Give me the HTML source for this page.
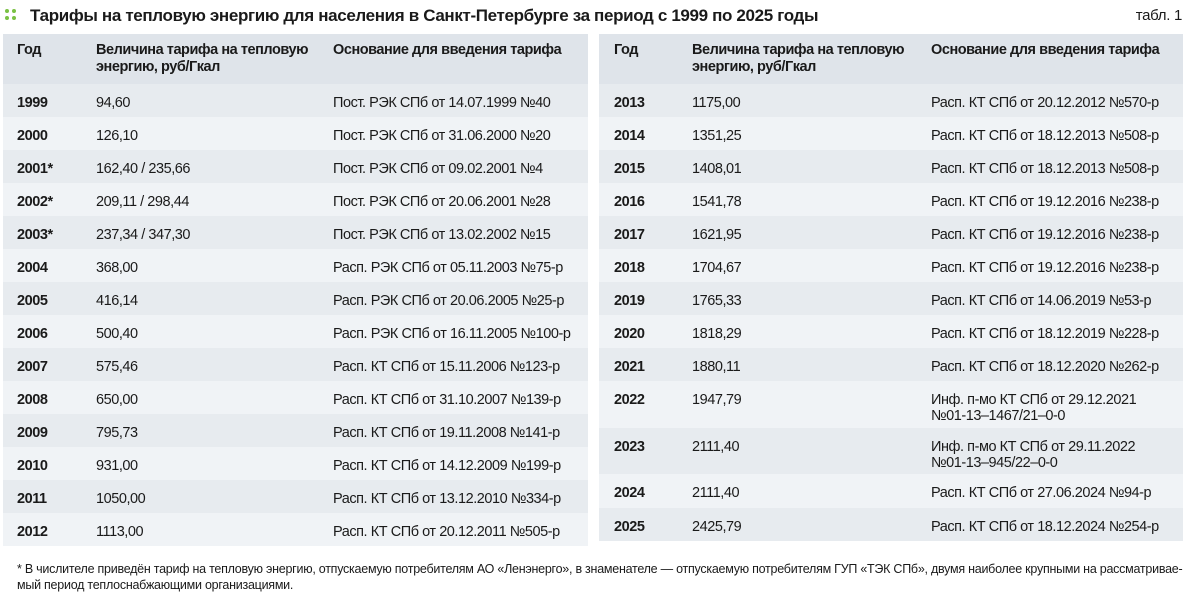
<!DOCTYPE html>
<html><head><meta charset="utf-8"><style>
body{margin:0;width:1187px;height:599px;background:#fff;font-family:"Liberation Sans",sans-serif;color:#1a1a1a;position:relative;overflow:hidden}
.t{position:absolute;left:30px;top:6px;font-size:17px;font-weight:bold;letter-spacing:-0.35px;white-space:nowrap}
.tn{position:absolute;right:5px;top:7px;font-size:15px;letter-spacing:-0.3px}
.dots{position:absolute;left:5px;top:9px;width:11px;height:11px}
.dots i{position:absolute;width:4px;height:4px;border-radius:50%;background:#7ac143}
table{position:absolute;border-collapse:collapse;font-size:14.5px;letter-spacing:-0.45px;top:34px;table-layout:fixed}
td,th{padding:0;vertical-align:top;text-align:left;white-space:nowrap;overflow:visible}
th{font-weight:bold;background:#dfe4ea;height:50px;padding-top:8px;box-sizing:border-box;line-height:17px}
tr.o td{background:#e7ebef}
tr.e td{background:#f0f3f6}
td{height:33px;box-sizing:border-box;padding-top:11px;line-height:16px}
td.y{font-weight:bold}
.fn{position:absolute;left:17px;top:561px;font-size:12.5px;letter-spacing:-0.25px;line-height:16px;white-space:nowrap}
</style></head><body>
<div class="dots"><i style="left:0;top:0"></i><i style="left:7px;top:0"></i><i style="left:0;top:7px"></i><i style="left:7px;top:7px"></i></div>
<div class="t">Тарифы на тепловую энергию для населения в Санкт-Петербурге за период с 1999 по 2025 годы</div>
<div class="tn">табл. 1</div>
<table style="left:3px;width:585px">
<colgroup><col style="width:93px"><col style="width:237px"><col style="width:255px"></colgroup>
<tr><th style="padding-left:14px">Год</th><th>Величина тарифа на тепловую<br>энергию, руб/Гкал</th><th>Основание для введения тарифа</th></tr>
<tr class="o"><td class="y" style="padding-left:14px">1999</td><td>94,60</td><td>Пост. РЭК СПб от 14.07.1999 №40</td></tr>
<tr class="e"><td class="y" style="padding-left:14px">2000</td><td>126,10</td><td>Пост. РЭК СПб от 31.06.2000 №20</td></tr>
<tr class="o"><td class="y" style="padding-left:14px">2001*</td><td>162,40 / 235,66</td><td>Пост. РЭК СПб от 09.02.2001 №4</td></tr>
<tr class="e"><td class="y" style="padding-left:14px">2002*</td><td>209,11 / 298,44</td><td>Пост. РЭК СПб от 20.06.2001 №28</td></tr>
<tr class="o"><td class="y" style="padding-left:14px">2003*</td><td>237,34 / 347,30</td><td>Пост. РЭК СПб от 13.02.2002 №15</td></tr>
<tr class="e"><td class="y" style="padding-left:14px">2004</td><td>368,00</td><td>Расп. РЭК СПб от 05.11.2003 №75-р</td></tr>
<tr class="o"><td class="y" style="padding-left:14px">2005</td><td>416,14</td><td>Расп. РЭК СПб от 20.06.2005 №25-р</td></tr>
<tr class="e"><td class="y" style="padding-left:14px">2006</td><td>500,40</td><td>Расп. РЭК СПб от 16.11.2005 №100-р</td></tr>
<tr class="o"><td class="y" style="padding-left:14px">2007</td><td>575,46</td><td>Расп. КТ СПб от 15.11.2006 №123-р</td></tr>
<tr class="e"><td class="y" style="padding-left:14px">2008</td><td>650,00</td><td>Расп. КТ СПб от 31.10.2007 №139-р</td></tr>
<tr class="o"><td class="y" style="padding-left:14px">2009</td><td>795,73</td><td>Расп. КТ СПб от 19.11.2008 №141-р</td></tr>
<tr class="e"><td class="y" style="padding-left:14px">2010</td><td>931,00</td><td>Расп. КТ СПб от 14.12.2009 №199-р</td></tr>
<tr class="o"><td class="y" style="padding-left:14px">2011</td><td>1050,00</td><td>Расп. КТ СПб от 13.12.2010 №334-р</td></tr>
<tr class="e"><td class="y" style="padding-left:14px">2012</td><td>1113,00</td><td>Расп. КТ СПб от 20.12.2011 №505-р</td></tr>
</table>
<table style="left:599px;width:584px">
<colgroup><col style="width:93px"><col style="width:239px"><col style="width:252px"></colgroup>
<tr><th style="padding-left:15px">Год</th><th>Величина тарифа на тепловую<br>энергию, руб/Гкал</th><th>Основание для введения тарифа</th></tr>
<tr class="o"><td class="y" style="padding-left:15px">2013</td><td>1175,00</td><td>Расп. КТ СПб от 20.12.2012 №570-р</td></tr>
<tr class="e"><td class="y" style="padding-left:15px">2014</td><td>1351,25</td><td>Расп. КТ СПб от 18.12.2013 №508-р</td></tr>
<tr class="o"><td class="y" style="padding-left:15px">2015</td><td>1408,01</td><td>Расп. КТ СПб от 18.12.2013 №508-р</td></tr>
<tr class="e"><td class="y" style="padding-left:15px">2016</td><td>1541,78</td><td>Расп. КТ СПб от 19.12.2016 №238-р</td></tr>
<tr class="o"><td class="y" style="padding-left:15px">2017</td><td>1621,95</td><td>Расп. КТ СПб от 19.12.2016 №238-р</td></tr>
<tr class="e"><td class="y" style="padding-left:15px">2018</td><td>1704,67</td><td>Расп. КТ СПб от 19.12.2016 №238-р</td></tr>
<tr class="o"><td class="y" style="padding-left:15px">2019</td><td>1765,33</td><td>Расп. КТ СПб от 14.06.2019 №53-р</td></tr>
<tr class="e"><td class="y" style="padding-left:15px">2020</td><td>1818,29</td><td>Расп. КТ СПб от 18.12.2019 №228-р</td></tr>
<tr class="o"><td class="y" style="padding-left:15px">2021</td><td>1880,11</td><td>Расп. КТ СПб от 18.12.2020 №262-р</td></tr>
<tr class="e"><td class="y" style="padding-left:15px;height:47px">2022</td><td>1947,79</td><td>Инф. п-мо КТ СПб от 29.12.2021<br>№01-13–1467/21–0-0</td></tr>
<tr class="o"><td class="y" style="padding-left:15px;height:46px">2023</td><td>2111,40</td><td>Инф. п-мо КТ СПб от 29.11.2022<br>№01-13–945/22–0-0</td></tr>
<tr class="e"><td class="y" style="padding-left:15px;height:34px">2024</td><td>2111,40</td><td>Расп. КТ СПб от 27.06.2024 №94-р</td></tr>
<tr class="o"><td class="y" style="padding-left:15px">2025</td><td>2425,79</td><td>Расп. КТ СПб от 18.12.2024 №254-р</td></tr>
</table>
<div class="fn">* В числителе приведён тариф на тепловую энергию, отпускаемую потребителям АО «Ленэнерго», в знаменателе — отпускаемую потребителям ГУП «ТЭК СПб», двумя наиболее крупными на рассматривае-<br>мый период теплоснабжающими организациями.</div>
</body></html>
